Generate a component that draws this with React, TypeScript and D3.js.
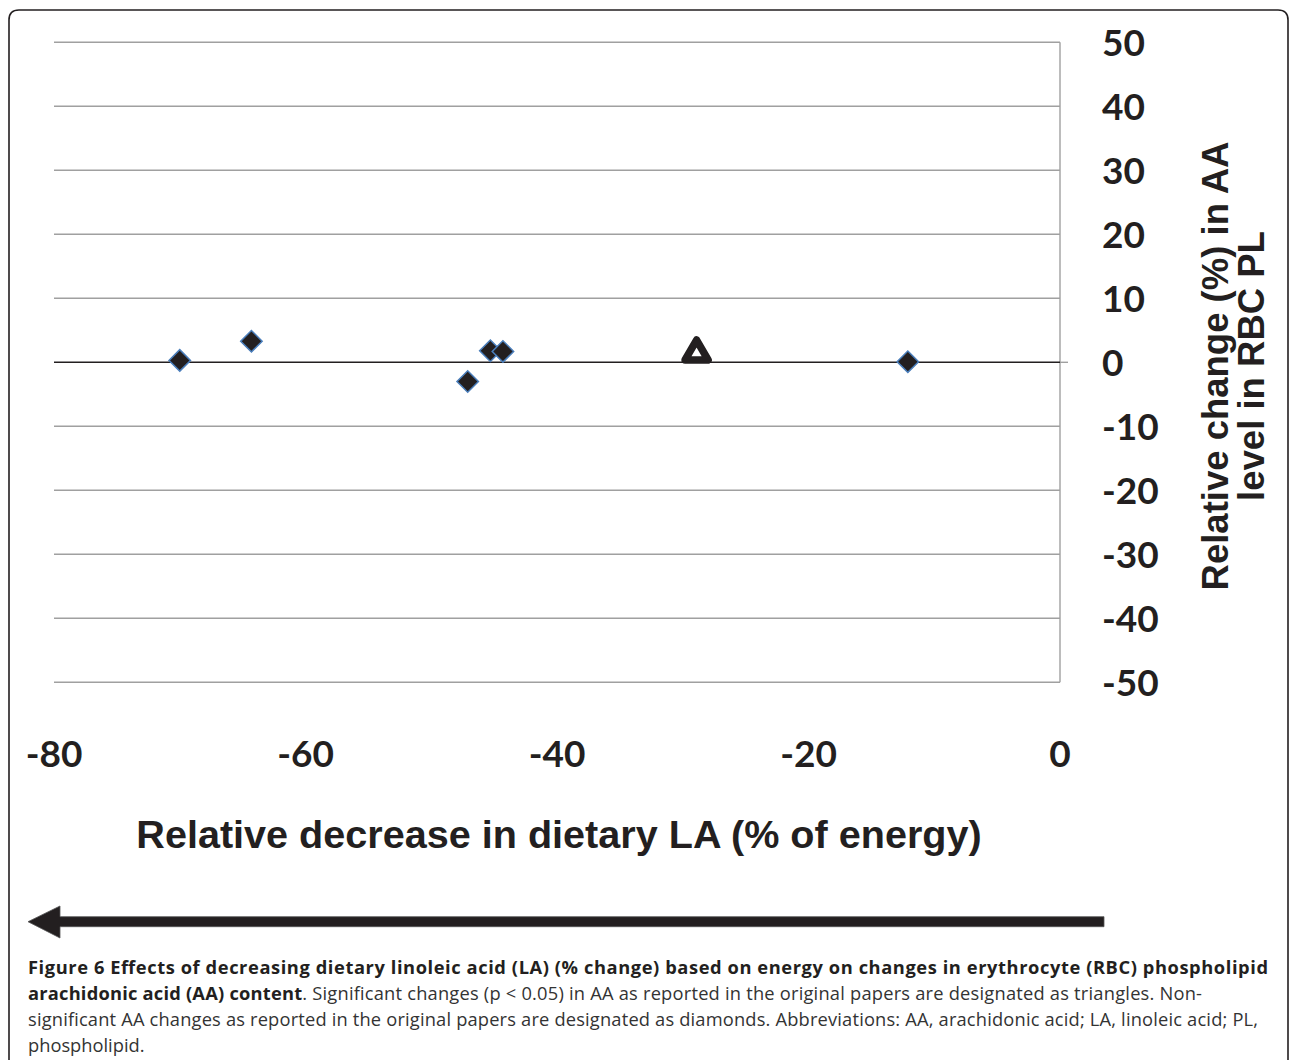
import React from "react";
import * as d3 from "d3";

const xTicks = [-80, -60, -40, -20, 0];
const yTicks = [50, 40, 30, 20, 10, 0, -10, -20, -30, -40, -50];

// Non-significant changes (diamonds)
const diamondX = [-70.0, -64.3, -47.1, -45.3, -44.3, -12.1];
const diamondY = [0.3, 3.3, -3.0, 1.8, 1.7, 0.1];

// Significant changes (triangles)
const triangleX = [-28.9];
const triangleY = [1.4];

const xTitle = "Relative decrease in dietary LA (% of energy)";
const yTitleLines = ["Relative change (%) in AA", "level in RBC PL"];

const captionLine1 =
  "Figure 6 Effects of decreasing dietary linoleic acid (LA) (% change) based on energy on changes in erythrocyte (RBC) phospholipid";
const captionLine2Bold = "arachidonic acid (AA) content";
const captionLine2 =
  ". Significant changes (p < 0.05) in AA as reported in the original papers are designated as triangles. Non-";
const captionLine3 =
  "significant AA changes as reported in the original papers are designated as diamonds. Abbreviations: AA, arachidonic acid; LA, linoleic acid; PL,";
const captionLine4 = "phospholipid.";

export default function App() {
  const W = 1290;
  const H = 1060;
  const x = d3.scaleLinear().domain([-80, 0]).range([54, 1060]);
  const y = d3.scaleLinear().domain([-50, 50]).range([682.3, 42.3]);

  const diamond = d3.symbol().type(d3.symbolSquare).size(230)();
  const tri = d3.symbol().type(d3.symbolTriangle).size(230)();

  const tickFont = "Lato, 'Open Sans', sans-serif";
  const titleFont = "'Liberation Sans', Arial, sans-serif";
  const capFont = "'Open Sans', 'Noto Sans', sans-serif";

  const r = 10;
  const borderPath = `M9,${H + 20} L9,${10 + r} Q9,10 ${9 + r},10 L${1288 - r},10 Q1288,10 1288,${10 + r} L1288,${H + 20}`;

  return (
    <svg
      width={W}
      height={H}
      style={{ position: "absolute", left: 0, top: 0, display: "block", background: "#fff" }}
    >
      <path d={borderPath} fill="none" stroke="#231f20" strokeWidth={1.6} />

      {/* gridlines */}
      {yTicks
        .filter((t) => t !== 0)
        .map((t) => (
          <line
            key={t}
            x1={x(-80)}
            x2={x(0)}
            y1={y(t)}
            y2={y(t)}
            stroke="#a0a0a0"
            strokeWidth={1.4}
          />
        ))}
      <line x1={x(0)} x2={x(0)} y1={y(50)} y2={y(-50)} stroke="#a0a0a0" strokeWidth={1.4} />
      <line x1={x(0)} x2={x(0) + 8} y1={y(0)} y2={y(0)} stroke="#a0a0a0" strokeWidth={1.4} />
      <line x1={x(-80)} x2={x(0)} y1={y(0)} y2={y(0)} stroke="#231f20" strokeWidth={1.6} />

      {/* y tick labels */}
      {yTicks.map((t) => (
        <text
          key={t}
          x={1102}
          y={y(t) + 13.5}
          fontFamily={tickFont}
          fontWeight={700}
          fontSize={37}
          fill="#231f20"
        >
          {t}
        </text>
      ))}

      {/* x tick labels */}
      {xTicks.map((t) => (
        <text
          key={t}
          x={x(t)}
          y={767}
          textAnchor="middle"
          fontFamily={tickFont}
          fontWeight={700}
          fontSize={37}
          fill="#231f20"
        >
          {t}
        </text>
      ))}

      {/* y title */}
      <text
        transform={`translate(1228,366) rotate(-90)`}
        textAnchor="middle"
        fontFamily={titleFont}
        fontWeight={700}
        fontSize={36.5}
        fill="#231f20"
      >
        {yTitleLines[0]}
      </text>
      <text
        transform={`translate(1264,366) rotate(-90)`}
        textAnchor="middle"
        fontFamily={titleFont}
        fontWeight={700}
        fontSize={36.5}
        fill="#231f20"
      >
        {yTitleLines[1]}
      </text>

      {/* x title */}
      <text
        x={559}
        y={848}
        textAnchor="middle"
        fontFamily={titleFont}
        fontWeight={700}
        fontSize={39.6}
        fill="#231f20"
      >
        {xTitle}
      </text>

      {/* diamonds */}
      {diamondX.map((v, i) => (
        <path
          key={i}
          d={diamond!}
          transform={`translate(${x(v)},${y(diamondY[i])}) rotate(45)`}
          fill="#231f20"
          stroke="#4a7ebb"
          strokeWidth={1.5}
        />
      ))}

      {/* triangles */}
      {triangleX.map((v, i) => (
        <path
          key={i}
          d={tri!}
          transform={`translate(${x(v)},${y(triangleY[i])})`}
          fill="#fff"
          stroke="#231f20"
          strokeWidth={7.5}
          strokeLinejoin="round"
        />
      ))}

      {/* arrow */}
      <path
        d="M1104,916.7 L60,916.7 L60,906 L28,921.7 L60,938 L60,926.7 L1104,926.7 Z"
        fill="#231f20"
        stroke="#555"
        strokeWidth={0.8}
      />

      {/* caption */}
      <g fontFamily={capFont} fontSize={18.3} fill="#231f20">
        <text x={28} y={974} fontWeight={700} textLength={1240} lengthAdjust="spacing">
          {captionLine1}
        </text>
        <text x={28} y={1000} textLength={1174} lengthAdjust="spacing">
          <tspan fontWeight={700}>{captionLine2Bold}</tspan>
          <tspan fill="#333">{captionLine2}</tspan>
        </text>
        <text x={28} y={1026} textLength={1230} lengthAdjust="spacing" fill="#333">
          {captionLine3}
        </text>
        <text x={28} y={1052} fill="#333">
          {captionLine4}
        </text>
      </g>
    </svg>
  );
}
